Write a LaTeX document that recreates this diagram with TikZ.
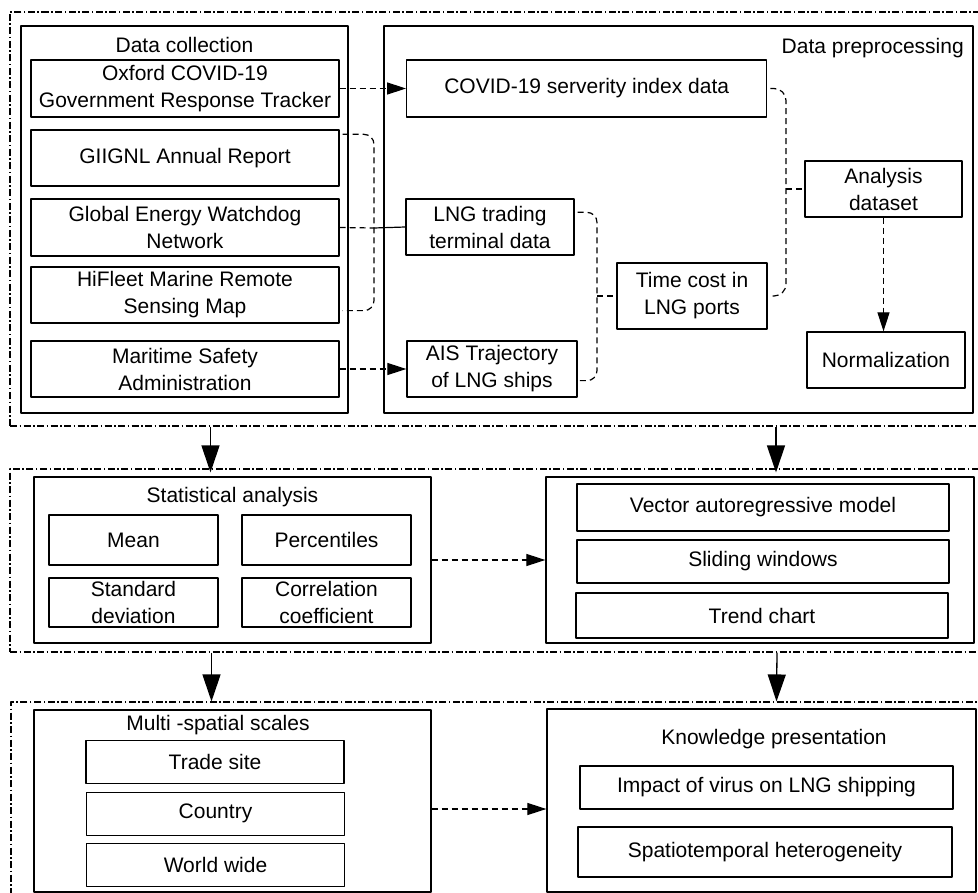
\documentclass[tikz,border=0pt]{standalone}
\usepackage{fontspec}
\setmainfont{Liberation Sans}
\usetikzlibrary{arrows.meta}

\begin{document}
\begin{tikzpicture}[line join=round,x=1pt,y=-1pt,
  every node/.style={font=\fontsize{21}{27}\selectfont,inner sep=2pt},
  box/.style={draw,line width=1.3pt,align=center},
  src/.style={box,minimum width=308pt,minimum height=57pt},
  frame/.style={draw,line width=1.1pt,dash pattern=on 7pt off 2.5pt on 1.5pt off 2.5pt},
  dline/.style={line width=1.2pt,dash pattern=on 6pt off 4pt},
  darr/.style={dline,-{Triangle[length=19pt,width=12pt]}},
  bigarr/.style={line width=1.3pt,-{Triangle[length=27pt,width=18pt]}}]
\useasboundingbox (0,0) rectangle (978,893);

% stage 1: collection and preprocessing
\node[frame,minimum width=980pt,minimum height=414pt] (stage1) at (500,219) {};
\node[box,minimum width=327pt,minimum height=387pt] (collect) at (184.5,219.5) {};
\node (collecttitle) at (184.5,45) {Data collection};
\node[src] (oxford) at (185,88.5) {Oxford COVID-19\\Government Response Tracker};
\node[src,minimum height=56pt] (giignl) at (185,158) {GIIGNL Annual Report};
\node[src] (gewn) at (185,227.5) {Global Energy Watchdog\\Network};
\node[src,minimum height=56pt] (hifleet) at (185,295) {HiFleet Marine Remote\\Sensing Map};
\node[src,minimum height=56pt] (msa) at (185,369) {Maritime Safety\\Administration};

\node[box,minimum width=589pt,minimum height=387pt] (prep) at (678.5,219.5) {};
\node[anchor=east] (preptitle) at (966,48) {Data preprocessing};
\node[box,minimum width=360pt,minimum height=57pt] (covid) at (586.7,88.5) {COVID-19 serverity index data};
\node[box,minimum width=168pt,minimum height=56pt] (lngtrade) at (490,227) {LNG trading\\terminal data};
\node[box,minimum width=170pt,minimum height=56pt] (ais) at (492,369) {AIS Trajectory\\of LNG ships};
\node[box,minimum width=150pt,minimum height=66pt] (timecost) at (692,296) {Time cost in\\LNG ports};
\node[box,minimum width=157pt,minimum height=56pt] (analysis) at (883.5,189) {Analysis\\dataset};
\node[box,minimum width=158pt,minimum height=56pt] (normal) at (886,360) {Normalization};

\coordinate (srcbus) at (374,228);
\coordinate (shipbus) at (597,296);
\coordinate (databus) at (786,189);

\draw[darr] (oxford.east) -- (covid.west);
\draw[darr] (msa.east) -- (ais.west);
\draw[dline,rounded corners=10pt] ([xshift=3pt,yshift=-5pt]giignl.north east) -| (srcbus)
  |- ([xshift=3pt,yshift=13pt]hifleet.south east);
\draw[dline] (gewn.east) -- (srcbus);
\draw[line width=1.2pt] (srcbus) -- (lngtrade.west);
\draw[dline,rounded corners=10pt] ([xshift=3pt,yshift=-14pt]lngtrade.north east) -| (shipbus)
  |- ([xshift=2pt,yshift=17pt]ais.south east);
\draw[dline] (shipbus) -- (timecost.west);
\draw[dline,rounded corners=12pt] ([xshift=3pt]covid.east) -| (databus) |- ([xshift=2pt]timecost.east);
\draw[dline] (databus) -- (analysis.west);
\draw[darr] (analysis.south) -- (analysis.south |- normal.north);

% stage 2: analysis
\node[frame,minimum width=980pt,minimum height=183pt] (stage2) at (500,560.5) {};
\node[box,minimum width=397pt,minimum height=166pt] (stat) at (232.5,560) {};
\node (stattitle) at (232.5,497) {Statistical analysis};
\node[box,minimum width=169pt,minimum height=50pt] (mean) at (133.5,540) {Mean};
\node[box,minimum width=169pt,minimum height=50pt] (pct) at (326.5,540) {Percentiles};
\node[box,minimum width=169pt,minimum height=49pt] (sd) at (133.5,602.5) {Standard\\deviation};
\node[box,minimum width=169pt,minimum height=49pt] (cc) at (326.5,602.5) {Correlation\\coefficient};

\node[box,minimum width=428pt,minimum height=166pt] (model) at (760,560) {};
\node[box,minimum width=372pt,minimum height=47pt] (var) at (763,507.5) {Vector autoregressive model};
\node[box,minimum width=372pt,minimum height=43pt] (slide) at (763,561.5) {Sliding windows};
\node[box,minimum width=372pt,minimum height=45pt] (trend) at (762,615.5) {Trend chart};

\draw[bigarr] ([xshift=-22pt]stat.north |- stage1.south) -- ([xshift=-22pt,yshift=-4pt]stat.north |- stage2.north);
\draw[bigarr] ([xshift=16pt]model.north |- stage1.south) -- ([xshift=16pt,yshift=-4pt]model.north |- stage2.north);
\draw[darr] (stat.east) -- (model.west);

% stage 3: results
\node[frame,minimum width=980pt,minimum height=203pt] (stage3) at (501,803.5) {};
\node[box,minimum width=397pt,minimum height=182pt] (multi) at (232.5,801) {};
\node (multititle) at (218,725) {Multi -spatial scales};
\node[box,minimum width=258pt,minimum height=43pt] (trade) at (215,761.7) {Trade site};
\node[box,minimum width=258pt,minimum height=43pt] (country) at (215.5,813.7) {Country};
\node[box,minimum width=258pt,minimum height=43pt] (world) at (215.5,865) {World wide};

\node[box,minimum width=429pt,minimum height=183pt] (know) at (761.5,800.5) {};
\node (knowtitle) at (774,739) {Knowledge presentation};
\node[box,minimum width=373pt,minimum height=43pt] (impact) at (766.5,787.5) {Impact of virus on LNG shipping};
\node[box,minimum width=374pt,minimum height=50pt] (spatio) at (765,852) {Spatiotemporal heterogeneity};

\draw[bigarr] ([xshift=-21pt]stat.south |- stage2.south) -- ([xshift=-21pt]multi.north |- stage3.north);
\draw[bigarr] ([xshift=17pt]model.south |- stage2.south) -- ([xshift=15pt]know.north |- stage3.north);
\draw[darr] ([yshift=-8pt]multi.east) -- ([yshift=-8pt]multi.east -| know.west);
\end{tikzpicture}
\end{document}
